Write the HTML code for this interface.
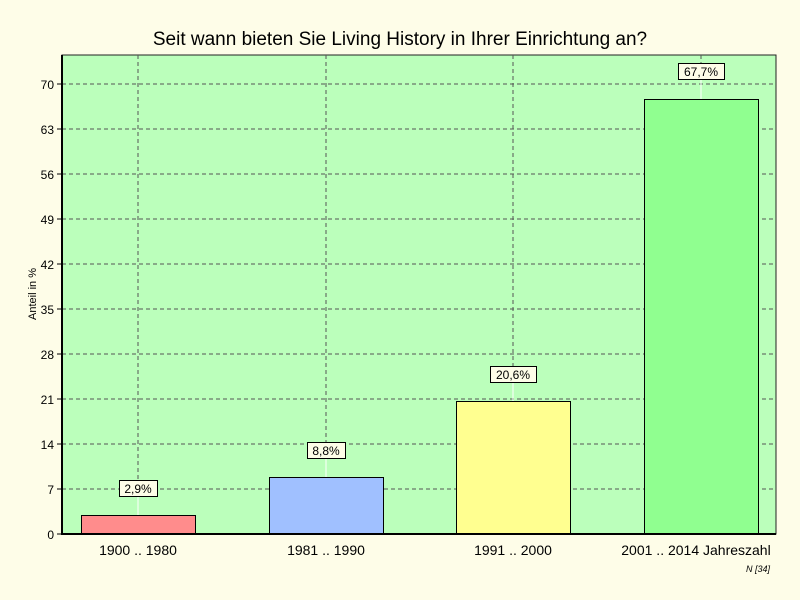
<!DOCTYPE html>
<html><head><meta charset="utf-8"><style>body{margin:0;background:#fefde8}svg{display:block}</style></head>
<body>
<svg width="800" height="600" xmlns="http://www.w3.org/2000/svg" font-family="Liberation Sans, sans-serif">
<rect width="800" height="600" fill="#fefde8"/>
<text x="400" y="45" font-size="19" text-anchor="middle" fill="#000">Seit wann bieten Sie Living History in Ihrer Einrichtung an?</text>
<rect x="62" y="55" width="714" height="479" fill="#bbffbb" stroke="#222" stroke-width="1"/>
<g stroke="#555" stroke-dasharray="4,3" stroke-width="1">
<line x1="62" x2="776" y1="489" y2="489"/><line x1="62" x2="776" y1="444" y2="444"/>
<line x1="62" x2="776" y1="399" y2="399"/><line x1="62" x2="776" y1="354" y2="354"/>
<line x1="62" x2="776" y1="309" y2="309"/><line x1="62" x2="776" y1="264" y2="264"/>
<line x1="62" x2="776" y1="219" y2="219"/><line x1="62" x2="776" y1="174" y2="174"/>
<line x1="62" x2="776" y1="129" y2="129"/><line x1="62" x2="776" y1="84" y2="84"/>
<line x1="138" x2="138" y1="55" y2="534"/><line x1="326" x2="326" y1="55" y2="534"/>
<line x1="513" x2="513" y1="55" y2="534"/><line x1="701" x2="701" y1="55" y2="534"/>
</g>
<g stroke="#fff" stroke-width="1">
<line x1="138" x2="138" y1="496" y2="515"/><line x1="326" x2="326" y1="458" y2="477"/>
<line x1="513" x2="513" y1="382" y2="401"/><line x1="701" x2="701" y1="80" y2="99"/>
</g>
<g stroke="#000" stroke-width="1">
<rect x="81.5" y="515.5" width="114" height="18.5" fill="#ff8c8c"/>
<rect x="269.5" y="477.5" width="114" height="56.5" fill="#a0c0ff"/>
<rect x="456.5" y="401.5" width="114" height="132.5" fill="#ffff90"/>
<rect x="644.5" y="99.5" width="114" height="434.5" fill="#90ff90"/>
</g>
<line x1="62" y1="55" x2="62" y2="535" stroke="#000" stroke-width="2"/>
<line x1="61" y1="534" x2="776" y2="534" stroke="#000" stroke-width="2"/>
<g stroke="#000"><line x1="57" x2="62" y1="534" y2="534"/><line x1="57" x2="62" y1="489" y2="489"/><line x1="57" x2="62" y1="444" y2="444"/><line x1="57" x2="62" y1="399" y2="399"/><line x1="57" x2="62" y1="354" y2="354"/><line x1="57" x2="62" y1="309" y2="309"/><line x1="57" x2="62" y1="264" y2="264"/><line x1="57" x2="62" y1="219" y2="219"/><line x1="57" x2="62" y1="174" y2="174"/><line x1="57" x2="62" y1="129" y2="129"/><line x1="57" x2="62" y1="84" y2="84"/></g>
<g font-size="12" text-anchor="end" fill="#000">
<text x="54" y="539">0</text><text x="54" y="494">7</text><text x="54" y="449">14</text><text x="54" y="404">21</text><text x="54" y="359">28</text><text x="54" y="314">35</text><text x="54" y="269">42</text><text x="54" y="224">49</text><text x="54" y="179">56</text><text x="54" y="134">63</text><text x="54" y="89">70</text>
</g>
<text transform="translate(36,294) rotate(-90)" font-size="11" text-anchor="middle">Anteil in %</text>
<g font-size="14" text-anchor="middle">
<text x="138" y="555">1900 .. 1980</text><text x="326" y="555">1981 .. 1990</text><text x="513" y="555">1991 .. 2000</text><text x="696" y="555">2001 .. 2014 Jahreszahl</text>
</g>
<g font-size="12" text-anchor="middle">
<rect x="119.5" y="480.5" width="38" height="16" fill="#fefde8" stroke="#000"/><text x="138" y="493">2,9%</text>
<rect x="307.5" y="442.5" width="38" height="16" fill="#fefde8" stroke="#000"/><text x="326" y="455">8,8%</text>
<rect x="490.5" y="366.5" width="46" height="16" fill="#fefde8" stroke="#000"/><text x="513" y="379">20,6%</text>
<rect x="678.5" y="63.5" width="46" height="16" fill="#fefde8" stroke="#000"/><text x="701" y="76">67,7%</text>
</g>
<text x="770" y="572" font-size="9" font-style="italic" text-anchor="end">N [34]</text>
</svg>
</body></html>
